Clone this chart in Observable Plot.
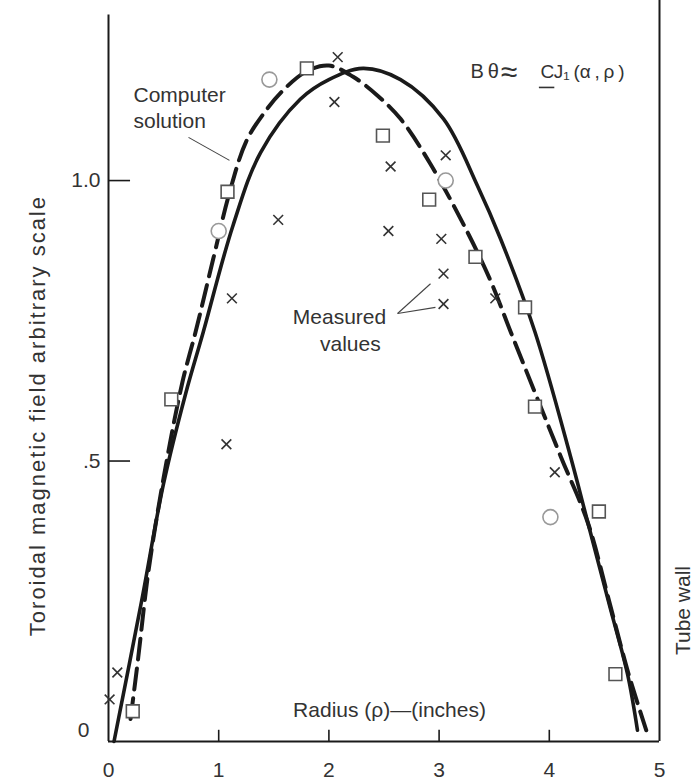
<!DOCTYPE html>
<html><head><meta charset="utf-8">
<script src="https://cdn.jsdelivr.net/npm/d3@7"></script>
<script src="https://cdn.jsdelivr.net/npm/@observablehq/plot@0.6"></script>
<style>body{margin:0;background:#fff} svg{display:block}</style>
</head><body><div id="chart"></div>
<script>
// Computer solution curves [radius, field]
const solidCurve = [[0.05,0.0],[0.30,0.25],[0.50,0.46],[0.70,0.62],[0.86,0.73],[1.13,0.92],[1.38,1.05],[1.74,1.145],[2.00,1.18],[2.31,1.20],[2.65,1.18],[3.04,1.11],[3.35,0.99],[3.56,0.895],[3.87,0.73],[4.19,0.51],[4.35,0.39],[4.55,0.24],[4.71,0.12],[4.80,0.02]];
const dashedCurve = [[0.20,0.04],[0.27,0.15],[0.36,0.30],[0.50,0.47],[0.67,0.64],[0.79,0.73],[0.95,0.86],[1.10,0.98],[1.25,1.07],[1.41,1.12],[1.58,1.16],[1.80,1.195],[2.00,1.205],[2.22,1.185],[2.45,1.15],[2.65,1.11],[2.92,1.03],[3.26,0.907],[3.47,0.82],[3.65,0.73],[4.10,0.51],[4.35,0.39],[4.55,0.245],[4.72,0.12],[4.88,0.02]];
// Measured values
const squares = [[0.22,0.054],[0.57,0.61],[1.08,0.98],[1.80,1.20],[2.49,1.08],[2.91,0.966],[3.33,0.864],[3.78,0.774],[3.87,0.597],[4.45,0.41],[4.60,0.12]];
const circles = [[1.00,0.91],[1.46,1.18],[3.06,1.00],[4.01,0.40]];
const crosses = [[0.01,0.075],[0.08,0.123],[1.07,0.53],[1.12,0.79],[1.54,0.93],[2.05,1.14],[2.08,1.22],[2.54,0.91],[2.56,1.025],[3.02,0.896],[3.04,0.834],[3.04,0.78],[3.06,1.045],[3.51,0.79],[4.05,0.48]];
// Axis ticks
const xTicks = [1,2,3,4];
const xTickLabels = ["0","1","2","3","4","5"];
const yTicks = [0.5,1.0];
const yTickLabels = [".5","1.0"];

const font = "'Liberation Sans', Arial, Helvetica, sans-serif";
const ink = "#1a1a1a", txt = "#333";

const chart = Plot.plot({
  width: 695, height: 781,
  marginLeft: 108, marginRight: 36, marginTop: 0, marginBottom: 40,
  x: {domain: [0, 5], axis: null},
  y: {domain: [0, 1.321], axis: null},
  style: {fontFamily: font, background: "#fff", color: txt, overflow: "visible"},
  marks: [
    // frame
    Plot.ruleX([0], {y1: 0, y2: 1.295, stroke: ink, strokeWidth: 2}),
    Plot.ruleX([5], {y1: 0, y2: 1.321, stroke: ink, strokeWidth: 2}),
    Plot.ruleY([0], {x1: 0, x2: 5, stroke: ink, strokeWidth: 2}),
    Plot.ruleX(xTicks, {x: d => d, y1: 0, y2: 0.02, stroke: ink, strokeWidth: 1.6}),
    Plot.ruleY(yTicks, {y: d => d, x1: 0, x2: 0.2, stroke: ink, strokeWidth: 1.6}),
    Plot.text(xTickLabels, {x: d => +d, y: 0, dy: 29, text: d => d, fontSize: 21, fill: txt}),
    Plot.text(yTickLabels, {x: 0, y: d => +d, dx: -8, textAnchor: "end", text: d => d, fontSize: 21, fill: txt}),
    Plot.text(["0"], {x: 0, y: 0, dx: -25, dy: -11, text: d => d, fontSize: 21, fill: txt}),
    // axis titles
    Plot.text(["Toroidal magnetic field arbitrary scale"], {x: -0.644, y: 0.581, rotate: -90, text: d => d, fontSize: 22, fill: txt, ariaDescription: "y-title"}),
    Plot.text(["Radius (\u03c1)\u2014(inches)"], {x: 2.55, y: (741-716)/561, text: d => d, fontSize: 21, fill: txt, lineAnchor: "bottom"}),
    Plot.text(["Tube wall"], {x: 5.218, y: 0.2335, rotate: -90, text: d => d, fontSize: 21, fill: txt}),
    // curves
    Plot.line(solidCurve, {x: "0", y: "1", stroke: ink, strokeWidth: 3.6, curve: "catmull-rom"}),
    Plot.line(dashedCurve, {x: "0", y: "1", stroke: ink, strokeWidth: 4, strokeDasharray: "21,9", curve: "catmull-rom"}),
    // markers
    Plot.dot(squares, {x: "0", y: "1", symbol: "square", r: 7.2, stroke: "#555", strokeWidth: 1.6, fill: "white"}),
    Plot.dot(circles, {x: "0", y: "1", symbol: "circle", r: 7.5, stroke: "#999", strokeWidth: 1.6, fill: "white"}),
    Plot.dot(crosses, {x: "0", y: "1", symbol: "times", r: 4.5, stroke: "#333", strokeWidth: 1.6}),
    // annotations
    Plot.text(["Computer\nsolution"], {x: 0.227, y: 1.093, text: d => d, textAnchor: "start", lineAnchor: "bottom", lineHeight: 1.24, fontSize: 21, fill: txt}),
    Plot.link([[0.726,1.077,1.098,1.036]], {x1: "0", y1: "1", x2: "2", y2: "3", stroke: "#444", strokeWidth: 1.1}),
    Plot.text(["Measured"], {x: 2.52, y: 0.745, text: d => d, textAnchor: "end", lineAnchor: "bottom", fontSize: 21, fill: txt}),
    Plot.text(["values"], {x: 2.47, y: 0.697, text: d => d, textAnchor: "end", lineAnchor: "bottom", fontSize: 21, fill: txt}),
    Plot.link([[2.623,0.763,2.922,0.816],[2.623,0.763,2.967,0.774]], {x1: "0", y1: "1", x2: "2", y2: "3", stroke: "#444", strokeWidth: 1.1}),
    Plot.text(["B\u2009\u03b8"], {x: 3.285, y: 1.1836, text: d => d, textAnchor: "start", lineAnchor: "bottom", fontSize: 20, fill: txt}),
    Plot.text(["\u2248"], {x: 3.56, y: 1.1925, text: d => d, textAnchor: "start", lineAnchor: "middle", fontSize: 30, fill: txt}),
    Plot.text(["C"], {x: 3.92, y: 1.1836, text: d => d, textAnchor: "start", lineAnchor: "bottom", fontSize: 19, fill: txt}),
    Plot.ruleY([1.166], {x1: 3.91, x2: 4.05, stroke: txt, strokeWidth: 1.6}),
    Plot.text(["J\u2081\u2009(\u03b1\u2009,\u2009\u03c1\u2009)"], {x: 4.04, y: 1.1836, text: d => d, textAnchor: "start", lineAnchor: "bottom", fontSize: 19, fill: txt})
  ]
});
d3.select(chart).selectAll('g[aria-description="y-title"] text').style("letter-spacing", "2px");
document.getElementById("chart").append(chart);
</script>
</body></html>
